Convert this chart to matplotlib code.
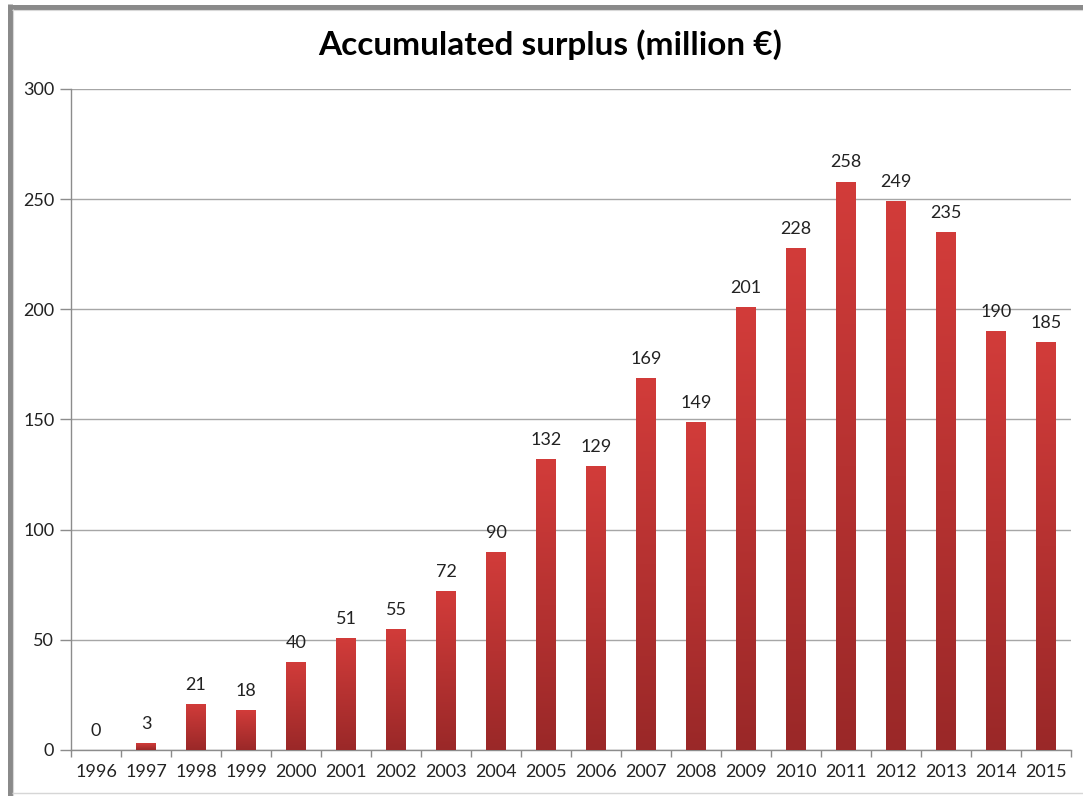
import matplotlib
matplotlib.use("Agg")
import matplotlib.pyplot as plt
import numpy as np
from matplotlib.lines import Line2D
from matplotlib.colors import LinearSegmentedColormap

years = ["1996", "1997", "1998", "1999", "2000", "2001", "2002", "2003", "2004", "2005",
         "2006", "2007", "2008", "2009", "2010", "2011", "2012", "2013", "2014", "2015"]
surplus = [0, 3, 21, 18, 40, 51, 55, 72, 90, 132,
           129, 169, 149, 201, 228, 258, 249, 235, 190, 185]
y_ticks = [0, 50, 100, 150, 200, 250, 300]

plt.rcParams["font.family"] = ["Lato", "DejaVu Sans"]

W, H = 1083, 796
fig = plt.figure(figsize=(W / 100, H / 100), dpi=100)
ax = fig.add_axes([71 / W, 1 - 750 / H, 1000 / W, 661 / H])

x = np.arange(len(years))
bars = ax.bar(x, surplus, width=0.4, color="#C03432", zorder=2)

# vertical gradient inside every bar: lighter red at the top, darker at the base
grad_cmap = LinearSegmentedColormap.from_list("bar_grad", ["#9A2828", "#D23C3A"])
grad = np.linspace(0, 1, 256).reshape(-1, 1)
for b in bars:
    h = b.get_height()
    if h <= 0:
        b.set_visible(False)
        continue
    bx, bw = b.get_x(), b.get_width()
    im = ax.imshow(grad, cmap=grad_cmap, origin="lower", aspect="auto",
                   extent=(bx, bx + bw, 0, h), zorder=3, interpolation="bilinear")
    im.set_clip_path(b)

ax.set_xlim(-0.5, len(years) - 0.5)
ax.set_ylim(0, 300)

# value labels
for xi, v in zip(x, surplus):
    ax.annotate(f"{v}", (xi, v), xytext=(0, 8), textcoords="offset points",
                ha="center", va="bottom", fontsize=13, color="#222222", zorder=4)

ax.set_yticks(y_ticks)
ax.set_yticklabels([str(t) for t in y_ticks], fontsize=13, color="#222222")
ax.set_xticks(x)
ax.set_xticklabels(years, fontsize=13, color="#222222")
ax.set_xticks(np.arange(-0.5, len(years), 1), minor=True)
ax.tick_params(axis="x", which="major", length=0, pad=10)
ax.tick_params(axis="x", which="minor", length=5, color="#8C8C8C", width=1)
ax.tick_params(axis="y", length=8, color="#8C8C8C", width=1, pad=4)

ax.grid(axis="y", color="#A6A6A6", linewidth=1.0, zorder=0)
ax.set_axisbelow(True)
for side in ["top", "right"]:
    ax.spines[side].set_visible(False)
for side in ["left", "bottom"]:
    ax.spines[side].set_color("#8C8C8C")
    ax.spines[side].set_linewidth(1.0)

fig.text(550 / W, 1 - 45 / H, "Accumulated surplus (million €)",
         ha="center", va="center", fontsize=24, fontweight="bold", color="#000000")

# frame: heavy gray on the left and top, light line along the bottom
def fig_line(xs, ys, color, lw):
    fig.lines.append(Line2D([v / W for v in xs], [1 - v / H for v in ys],
                            transform=fig.transFigure, color=color, linewidth=lw,
                            solid_capstyle="butt", zorder=10))

fig_line([10, 10], [4, H], "#8A8A8A", 3.6)
fig_line([8, W], [6.5, 6.5], "#8A8A8A", 3.6)
fig_line([12.5, 12.5], [9, H], "#D8D8D8", 0.8)
fig_line([12, W], [9.5, 9.5], "#D8D8D8", 0.8)
fig_line([12, W], [793, 793], "#D6D6D6", 1.0)

fig.savefig("out.png", dpi=100, facecolor="white")
